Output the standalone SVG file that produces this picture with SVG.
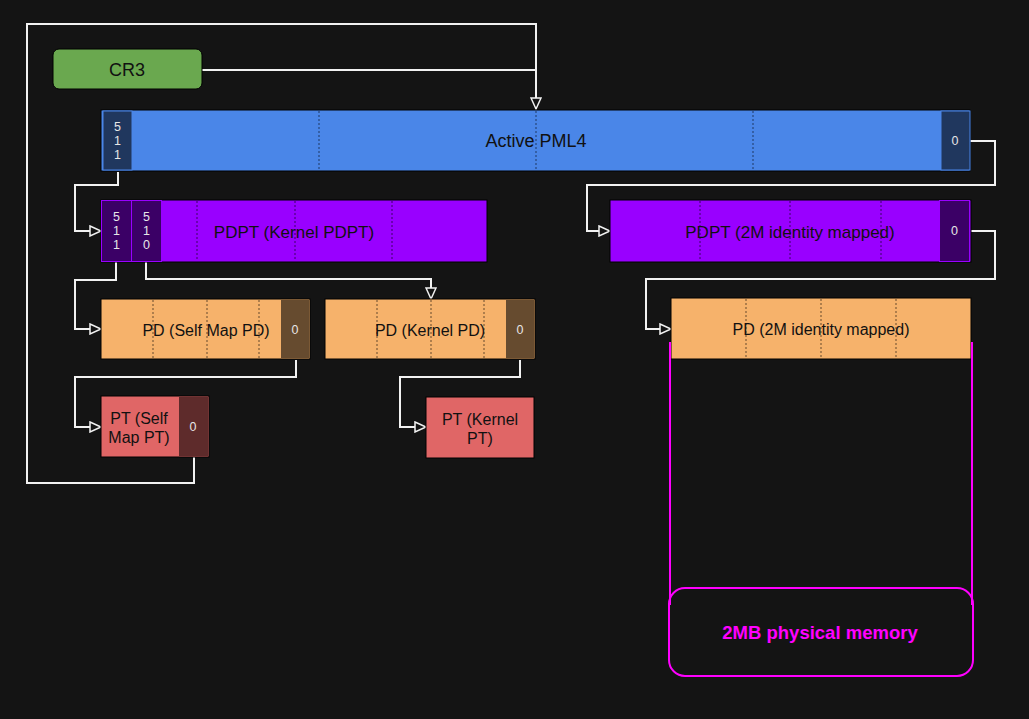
<svg xmlns="http://www.w3.org/2000/svg" width="1029" height="719" viewBox="0 0 1029 719">
<style>
.lbl{font-family:"Liberation Sans",Arial,sans-serif;fill:#111;text-anchor:middle;dominant-baseline:central}
.dig{font-family:"Liberation Sans",Arial,sans-serif;fill:#e6e6e6;font-size:12.5px;text-anchor:middle;dominant-baseline:central}
.dot{stroke-width:1;stroke-dasharray:2 2;fill:none}
.conn{fill:none;stroke:#f2f2f2;stroke-width:2}
.box{stroke:#000;stroke-width:1}
.mag{fill:none;stroke:#ff00ff;stroke-width:2}
</style>
<defs>
<marker id="arr" markerUnits="userSpaceOnUse" markerWidth="14" markerHeight="12" refX="11" refY="5" orient="auto" viewBox="-1 -1 13 12">
<path d="M0,0 L11,5 L0,10 Z" fill="#141414" stroke="#f2f2f2" stroke-width="1.5"/>
</marker>
</defs>
<rect x="0" y="0" width="1029" height="719" fill="#141414"/>

<g id="connectors">
<path class="conn" d="M194,457 V483 H27 V24 H536 V70"/>
<path class="conn" d="M202,70 H536 V109" marker-end="url(#arr)"/>
<path class="conn" d="M118,172 V185 H75 V231 H101" marker-end="url(#arr)"/>
<path class="conn" d="M970,141 H995 V185 H587 V231 H610" marker-end="url(#arr)"/>
<path class="conn" d="M116,262 V280 H75 V329 H101" marker-end="url(#arr)"/>
<path class="conn" d="M146,262 V279 H431 V299" marker-end="url(#arr)"/>
<path class="conn" d="M970,231 H995 V279 H646 V329 H671" marker-end="url(#arr)"/>
<path class="conn" d="M296,360 V377 H75 V427 H101" marker-end="url(#arr)"/>
<path class="conn" d="M520,360 V377 H400 V427 H426" marker-end="url(#arr)"/>
</g>

<g id="cr3">
<rect x="53" y="49" width="149" height="40" rx="6" fill="#6aa84f" stroke="#000" stroke-width="1"/>
<text class="lbl" x="127" y="70" font-size="18">CR3</text>
</g>

<g id="pml4">
<rect class="box" x="101" y="110" width="869" height="61" fill="#4a86e8"/>
<line class="dot" x1="319" y1="111" x2="319" y2="170" stroke="#1f3864"/>
<line class="dot" x1="536" y1="111" x2="536" y2="170" stroke="#1f3864"/>
<line class="dot" x1="753" y1="111" x2="753" y2="170" stroke="#1f3864"/>
<rect x="103" y="111" width="29" height="59" fill="#20375e" stroke="#4a86e8" stroke-width="1"/>
<rect x="941" y="111" width="29" height="59" fill="#20375e" stroke="#4a86e8" stroke-width="1"/>
<text class="dig" x="117.5" y="127">5</text>
<text class="dig" x="117.5" y="141">1</text>
<text class="dig" x="117.5" y="155">1</text>
<text class="dig" x="955" y="141">0</text>
<text class="lbl" x="536" y="141" font-size="18">Active PML4</text>
</g>

<g id="pdpt-kernel">
<rect class="box" x="101" y="200" width="386" height="62" fill="#9900ff"/>
<line class="dot" x1="197" y1="201" x2="197" y2="261" stroke="#3d0066"/>
<line class="dot" x1="295" y1="201" x2="295" y2="261" stroke="#3d0066"/>
<line class="dot" x1="392" y1="201" x2="392" y2="261" stroke="#3d0066"/>
<rect x="101.5" y="200.5" width="30" height="61" fill="#3b0066" stroke="#9900ff" stroke-width="1"/>
<rect x="131.5" y="200.5" width="30" height="61" fill="#3b0066" stroke="#9900ff" stroke-width="1"/>
<text class="dig" x="116.5" y="217">5</text>
<text class="dig" x="116.5" y="231">1</text>
<text class="dig" x="116.5" y="245">1</text>
<text class="dig" x="146.5" y="217">5</text>
<text class="dig" x="146.5" y="231">1</text>
<text class="dig" x="146.5" y="245">0</text>
<text class="lbl" x="294" y="232" font-size="17">PDPT (Kernel PDPT)</text>
</g>

<g id="pdpt-2m">
<rect class="box" x="610" y="200" width="361" height="62" fill="#9900ff"/>
<line class="dot" x1="700" y1="201" x2="700" y2="261" stroke="#3d0066"/>
<line class="dot" x1="790" y1="201" x2="790" y2="261" stroke="#3d0066"/>
<line class="dot" x1="881" y1="201" x2="881" y2="261" stroke="#3d0066"/>
<rect x="939.5" y="200.5" width="30" height="61" fill="#3b0066" stroke="#9900ff" stroke-width="1"/>
<text class="dig" x="954.5" y="231">0</text>
<text class="lbl" x="790" y="232" font-size="17">PDPT (2M identity mapped)</text>
</g>

<g id="pd-selfmap">
<rect class="box" x="101" y="299" width="209" height="60" fill="#f6b26b"/>
<line class="dot" x1="153" y1="300" x2="153" y2="358" stroke="#664b2f"/>
<line class="dot" x1="207" y1="300" x2="207" y2="358" stroke="#664b2f"/>
<line class="dot" x1="259" y1="300" x2="259" y2="358" stroke="#664b2f"/>
<rect x="281" y="300" width="28" height="58" fill="#664b2f"/>
<text class="dig" x="295" y="330">0</text>
<text class="lbl" x="206" y="330" font-size="16">PD (Self Map PD)</text>
</g>

<g id="pd-kernel">
<rect class="box" x="325" y="299" width="210" height="60" fill="#f6b26b"/>
<line class="dot" x1="377" y1="300" x2="377" y2="358" stroke="#664b2f"/>
<line class="dot" x1="431" y1="300" x2="431" y2="358" stroke="#664b2f"/>
<line class="dot" x1="484" y1="300" x2="484" y2="358" stroke="#664b2f"/>
<rect x="506" y="300" width="28" height="58" fill="#664b2f"/>
<text class="dig" x="520" y="330">0</text>
<text class="lbl" x="430" y="330" font-size="16">PD (Kernel PD)</text>
</g>

<g id="pd-2m">
<rect class="box" x="671" y="298" width="300" height="61" fill="#f6b26b"/>
<line class="dot" x1="746" y1="299" x2="746" y2="358" stroke="#664b2f"/>
<line class="dot" x1="821" y1="299" x2="821" y2="358" stroke="#664b2f"/>
<line class="dot" x1="896" y1="299" x2="896" y2="358" stroke="#664b2f"/>
<text class="lbl" x="821" y="329" font-size="16">PD (2M identity mapped)</text>
</g>

<g id="pt-selfmap">
<rect x="101" y="396" width="108" height="61" fill="#e06666" stroke="#000" stroke-width="1"/>
<rect x="179" y="397" width="29" height="59" fill="#5e2b2b"/>
<text class="dig" x="193" y="427">0</text>
<text class="lbl" x="139" y="418" font-size="16">PT (Self</text>
<text class="lbl" x="139" y="437" font-size="16">Map PT)</text>
</g>

<g id="pt-kernel">
<rect class="box" x="426" y="397" width="108" height="61" fill="#e06666"/>
<text class="lbl" x="480" y="419" font-size="16">PT (Kernel</text>
<text class="lbl" x="480" y="438" font-size="16">PT)</text>
</g>

<g id="physical-memory">
<line class="mag" x1="670" y1="342" x2="670" y2="605"/>
<line class="mag" x1="972" y1="342" x2="972" y2="605"/>
<rect class="mag" x="669" y="588" width="304" height="88" rx="16"/>
<text x="820" y="632" font-family="'Liberation Sans',Arial,sans-serif" font-size="18.5" font-weight="bold" fill="#ff00ff" text-anchor="middle" dominant-baseline="central">2MB physical memory</text>
</g>
</svg>
